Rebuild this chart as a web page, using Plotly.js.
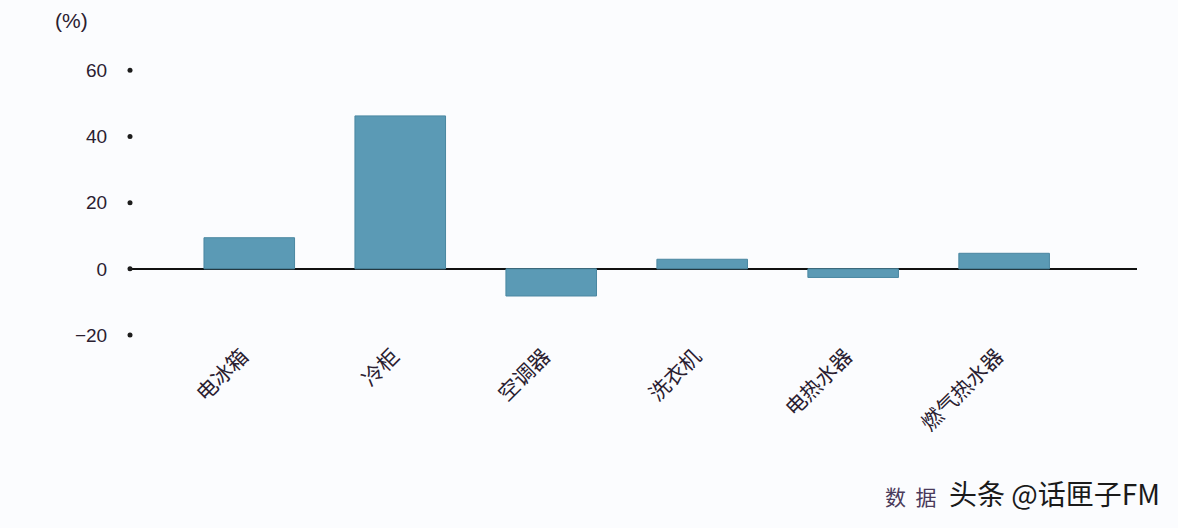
<!DOCTYPE html>
<html>
<head>
<meta charset="utf-8">
<script src="https://cdn.plot.ly/plotly-3.0.1.min.js"></script>
<style>
  html, body { margin: 0; padding: 0; background: #fbfcfe; }
  #chart { width: 1178px; height: 528px; }
</style>
</head>
<body>
<div id="chart"></div>
<script>
// appliance categories and growth (%)
const categories = ['电冰箱', '冷柜', '空调器', '洗衣机', '电热水器', '燃气热水器'];
const growth = [9.4, 46.2, -8.2, 2.9, -2.6, 4.7];
const yTicks = [-20, 0, 20, 40, 60];

const labelFont = {family: '"Noto Sans CJK SC", "Noto Sans", sans-serif', size: 21, color: '#2a2030'};

const bars = {
    type: 'bar',
    x: categories,
    y: growth,
    width: 0.6,
    marker: {
        color: '#5b9ab5',
        line: {color: '#4a87a1', width: 1},
    },
    hoverinfo: 'x+y',
};

// dot markers standing in for y ticks
const tickDots = {
    type: 'scatter',
    mode: 'markers',
    x: yTicks.map(() => 0),
    y: yTicks,
    xaxis: 'x2',
    yaxis: 'y',
    marker: {size: 5, color: '#1c1c1c'},
    cliponaxis: false,
    hoverinfo: 'skip',
};

const layout = {
    width: 1178,
    height: 528,
    margin: {l: 130, r: 41, t: 55, b: 185},
    paper_bgcolor: '#fbfcfe',
    plot_bgcolor: '#fbfcfe',
    showlegend: false,
    bargap: 0.4,
    xaxis: {
        type: 'category',
        range: [-0.79, 5.88],
        showline: false,
        showgrid: false,
        zeroline: false,
        ticks: '',
        tickangle: -45,
        ticklabelshift: -7,
        ticklabelstandoff: -4,
        tickfont: labelFont,
    },
    xaxis2: {
        overlaying: 'x',
        range: [0, 1],
        visible: false,
    },
    yaxis: {
        range: [-22.4, 64.6],
        tickvals: yTicks,
        showgrid: false,
        showline: false,
        zeroline: true,
        zerolinecolor: '#111111',
        zerolinewidth: 1.5,
        ticks: 'outside',
        ticklen: 18,
        tickcolor: 'rgba(0,0,0,0)',
        tickfont: {family: '"Liberation Sans", Arial, sans-serif', size: 19, color: '#2a2030'},
    },
    annotations: [
        {
            text: '(%)',
            xref: 'paper', yref: 'paper',
            x: -0.058, y: 1.12,
            xanchor: 'center', yanchor: 'middle',
            showarrow: false,
            font: {family: '"Liberation Sans", Arial, sans-serif', size: 21, color: '#2a2030'},
        },
        {
            text: '<span style="color:#4a3a5a;font-size:21px">数  据</span>  头条 @话匣子FM',
            xref: 'paper', yref: 'paper',
            x: 1.025, y: -0.52,
            xanchor: 'right', yanchor: 'middle',
            showarrow: false,
            font: {family: '"Noto Sans CJK SC", sans-serif', size: 28, color: '#1a1a1a'},
        },
    ],
};

Plotly.newPlot('chart', [bars, tickDots], layout, {displayModeBar: false, staticPlot: true});
</script>
</body>
</html>
